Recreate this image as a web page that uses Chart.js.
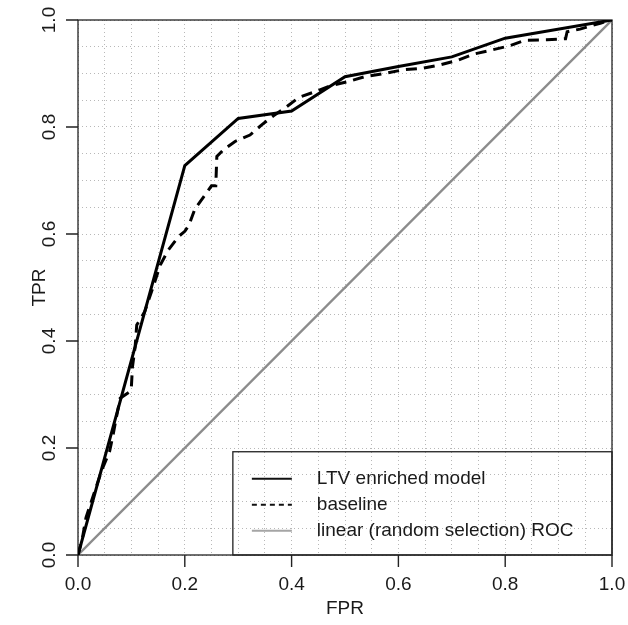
<!DOCTYPE html>
<html>
<head>
<meta charset="utf-8">
<script src="https://cdn.jsdelivr.net/npm/chart.js@4"></script>
<style>
  body { margin: 0; background: #fff; }
  canvas { display: block; }
</style>
</head>
<body>
<canvas id="rocChart" width="628" height="625"></canvas>
<script>
// ROC curves
const ltvFpr = [0, 0.2, 0.3, 0.4, 0.5, 0.6, 0.7, 0.8, 1.0];
const ltvTpr = [0, 0.728, 0.816, 0.83, 0.894, 0.913, 0.931, 0.966, 1.0];

const baseFpr = [0, 0.008, 0.015, 0.027, 0.045, 0.059, 0.065, 0.072, 0.079, 0.097, 0.1, 0.102, 0.107, 0.11, 0.125,
  0.144, 0.154, 0.169, 0.188, 0.2, 0.208, 0.219, 0.235, 0.25, 0.258, 0.26, 0.272, 0.294, 0.322, 0.344, 0.366,
  0.391, 0.413, 0.444, 0.472, 0.506, 0.537, 0.575, 0.609, 0.647, 0.678, 0.712, 0.74, 0.775, 0.809, 0.837,
  0.878, 0.913, 0.916, 0.94, 0.978, 1.0];
const baseTpr = [0, 0.03, 0.07, 0.106, 0.16, 0.193, 0.221, 0.258, 0.293, 0.305, 0.315, 0.352, 0.389, 0.43, 0.455,
  0.511, 0.542, 0.57, 0.595, 0.605, 0.617, 0.647, 0.669, 0.69, 0.69, 0.745, 0.757, 0.773, 0.785, 0.804, 0.821,
  0.838, 0.855, 0.866, 0.877, 0.885, 0.894, 0.9, 0.907, 0.91, 0.916, 0.925, 0.936, 0.944, 0.952, 0.962,
  0.963, 0.965, 0.978, 0.983, 0.994, 1.0];

const randFpr = [0, 1];
const randTpr = [0, 1];

const seriesNames = ['LTV enriched model', 'baseline', 'linear (random selection) ROC'];
const tickValues = [0, 0.2, 0.4, 0.6, 0.8, 1.0];
const tickLabels = ['0.0', '0.2', '0.4', '0.6', '0.8', '1.0'];

function toPoints(xs, ys) {
  return xs.map((x, i) => ({ x: x, y: ys[i] }));
}

// only every 0.2 gets a label, the 0.05 steps are just grid
function labelFor(v) {
  const i = tickValues.findIndex(t => Math.abs(t - v) < 1e-6);
  return i >= 0 ? tickLabels[i] : '';
}

Chart.defaults.font.family = '"Liberation Sans", Arial, Helvetica, sans-serif';
Chart.defaults.font.size = 19;
Chart.defaults.color = '#1a1a1a';

const TICK_LEN = 12;

// box around the plot region
const frameBox = {
  id: 'frameBox',
  beforeDatasetsDraw(chart) {
    const a = chart.chartArea;
    const ctx = chart.ctx;
    ctx.save();
    ctx.strokeStyle = '#222';
    ctx.lineWidth = 1.3;
    ctx.strokeRect(a.left, a.top, a.right - a.left, a.bottom - a.top);
    ctx.restore();
  },
  // outside tick marks at the labelled values
  afterDraw(chart) {
    const a = chart.chartArea;
    const ctx = chart.ctx;
    const xs = chart.scales.x;
    const ys = chart.scales.y;
    ctx.save();
    ctx.strokeStyle = '#222';
    ctx.lineWidth = 1.4;
    ctx.setLineDash([]);
    ctx.beginPath();
    tickValues.forEach(v => {
      const px = xs.getPixelForValue(v);
      ctx.moveTo(px, a.bottom);
      ctx.lineTo(px, a.bottom + TICK_LEN);
      const py = ys.getPixelForValue(v);
      ctx.moveTo(a.left, py);
      ctx.lineTo(a.left - TICK_LEN, py);
    });
    ctx.stroke();
    ctx.restore();
  }
};

// R-style legend sitting in the lower right corner of the plot
const boxLegend = {
  id: 'boxLegend',
  afterDatasetsDraw(chart) {
    const ctx = chart.ctx;
    const xs = chart.scales.x;
    const ys = chart.scales.y;
    const left = xs.getPixelForValue(0.29);
    const top = ys.getPixelForValue(0.193);
    const right = chart.chartArea.right;
    const bottom = chart.chartArea.bottom;
    const samples = [
      { color: '#111', width: 1.8, dash: [] },
      { color: '#111', width: 1.8, dash: [5, 4] },
      { color: '#a5a5a5', width: 1.8, dash: [] }
    ];
    ctx.save();
    ctx.strokeStyle = '#222';
    ctx.lineWidth = 1.3;
    ctx.strokeRect(left, top, right - left, bottom - top);
    ctx.font = '19px "Liberation Sans", Arial, sans-serif';
    ctx.textBaseline = 'middle';
    ctx.fillStyle = '#1a1a1a';
    seriesNames.forEach((name, i) => {
      const y = top + 27 + i * 26;
      const s = samples[i];
      ctx.strokeStyle = s.color;
      ctx.lineWidth = s.width;
      ctx.setLineDash(s.dash);
      ctx.beginPath();
      ctx.moveTo(left + 19, y);
      ctx.lineTo(left + 59, y);
      ctx.stroke();
      ctx.setLineDash([]);
      ctx.fillText(name, left + 84, y);
    });
    ctx.restore();
  }
};

const gridCommon = {
  color: '#b8b8b8',
  lineWidth: 1,
  tickColor: 'rgba(0,0,0,0)'
};

const ctx = document.getElementById('rocChart').getContext('2d');

const rocChart = new Chart(ctx, {
  type: 'line',
  data: {
    datasets: [
      {
        label: seriesNames[0],
        data: toPoints(ltvFpr, ltvTpr),
        borderColor: '#000',
        borderWidth: 3,
        pointRadius: 0,
        tension: 0
      },
      {
        label: seriesNames[1],
        data: toPoints(baseFpr, baseTpr),
        borderColor: '#000',
        borderWidth: 3,
        borderDash: [11, 7],
        pointRadius: 0,
        tension: 0
      },
      {
        label: seriesNames[2],
        data: toPoints(randFpr, randTpr),
        borderColor: '#8c8c8c',
        borderWidth: 2.3,
        pointRadius: 0,
        tension: 0
      }
    ]
  },
  options: {
    responsive: false,
    animation: false,
    layout: { padding: { top: 20, right: 16, left: 0, bottom: 0 } },
    plugins: {
      legend: { display: false },
      tooltip: { enabled: false }
    },
    scales: {
      x: {
        type: 'linear',
        position: 'bottom',
        min: 0,
        max: 1,
        afterFit: (scale) => { scale.height = 70; },
        border: { display: false, dash: [1, 3] },
        grid: Object.assign({}, gridCommon, { tickLength: 18 }),
        ticks: {
          stepSize: 0.05,
          autoSkip: false,
          maxRotation: 0,
          padding: 0,
          callback: (v) => labelFor(v)
        },
        title: { display: true, text: 'FPR', padding: { top: 0, bottom: 5 } }
      },
      y: {
        type: 'linear',
        position: 'left',
        min: 0,
        max: 1,
        afterFit: (scale) => { scale.width = 78; },
        border: { display: false, dash: [1, 3] },
        grid: Object.assign({}, gridCommon, { tickLength: TICK_LEN }),
        ticks: {
          stepSize: 0.05,
          autoSkip: false,
          minRotation: 90,
          maxRotation: 90,
          crossAlign: 'center',
          padding: 3,
          callback: (v) => labelFor(v)
        },
        title: { display: true, text: 'TPR', padding: { top: 28, bottom: 0 } }
      }
    }
  },
  plugins: [frameBox, boxLegend]
});
</script>
</body>
</html>
